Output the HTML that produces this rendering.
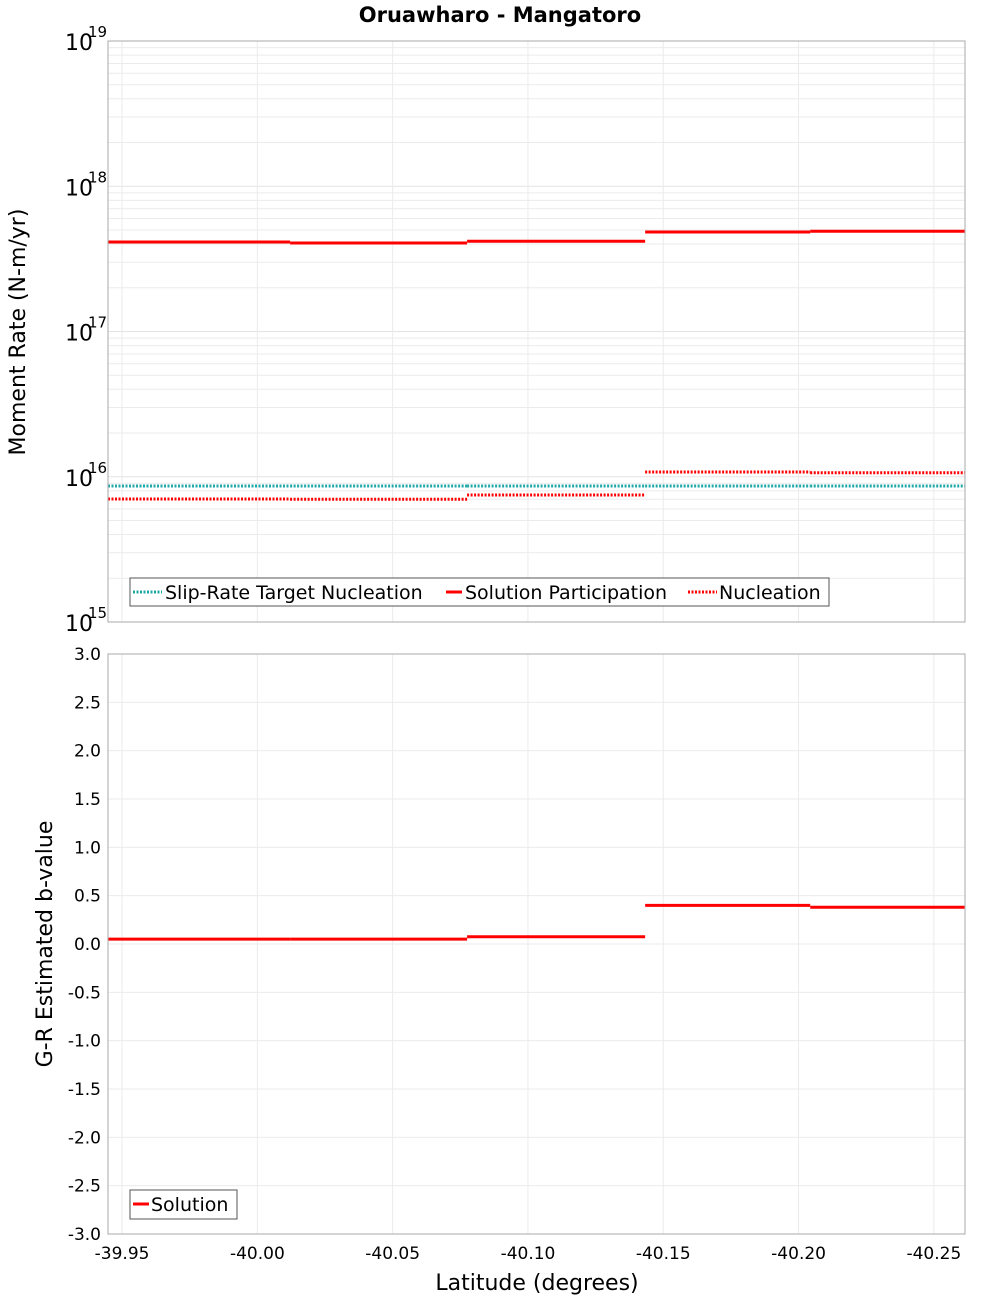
<!DOCTYPE html>
<html><head><meta charset="utf-8"><style>
body{margin:0;background:#fff;}
svg{display:block;font-family:"DejaVu Sans","Liberation Sans",sans-serif;}
</style></head><body>
<svg id="chart" width="1000" height="1300" xmlns="http://www.w3.org/2000/svg"></svg>
<script>
const boundaries = [-39.9448, -40.0121, -40.0775, -40.1433, -40.2043, -40.2615];
const participation = [4.13e17, 4.07e17, 4.18e17, 4.84e17, 4.9e17];
const nucleation = [7.03e15, 7.0e15, 7.49e15, 1.079e16, 1.066e16];
const target = [8.63e15, 8.63e15, 8.63e15, 8.63e15, 8.63e15];
const bvalues = [0.05, 0.05, 0.075, 0.40, 0.38];
const xTicks = [-39.95, -40.00, -40.05, -40.10, -40.15, -40.20, -40.25];
const xTickLabels = ["-39.95","-40.00","-40.05","-40.10","-40.15","-40.20","-40.25"];
const yLogTicks = [15, 16, 17, 18, 19];
const bTicks = [3.0,2.5,2.0,1.5,1.0,0.5,0.0,-0.5,-1.0,-1.5,-2.0,-2.5,-3.0];

const L=108,R=965,T1=41,B1=622,T2=654,B2=1234;
const xMin=-39.9448,xMax=-40.2615;
function X(v){return L+(v-xMin)/(xMax-xMin)*(R-L);}
function Y1(v){return B1-(Math.log10(v)-15)/4*(B1-T1);}
function Y2(v){return B2-(v+3)/6*(B2-T2);}
const svg=document.getElementById('chart');
const NS='http://www.w3.org/2000/svg';
function mk(tag,attrs,parent){const e=document.createElementNS(NS,tag);for(const k in attrs)e.setAttribute(k,attrs[k]);(parent||svg).appendChild(e);return e;}
function txt(s,attrs,parent){const e=mk('text',attrs,parent);e.textContent=s;return e;}

// title
const title=txt('Oruawharo - Mangatoro',{x:500,y:22,'text-anchor':'middle','font-size':21,'font-weight':'bold'});



// ---- top plot grid ----
const g1=mk('g',{});


for(let d=15;d<19;d++){for(let m=2;m<=9;m++){const y=Y1(m*Math.pow(10,d));mk('line',{x1:L,x2:R,y1:y,y2:y,stroke:'#ebebeb','stroke-width':1},g1);}}
yLogTicks.forEach(d=>{const y=Y1(Math.pow(10,d));mk('line',{x1:L,x2:R,y1:y,y2:y,stroke:'#e4e4e4','stroke-width':1},g1);});
xTicks.forEach(v=>{mk('line',{x1:X(v),x2:X(v),y1:T1,y2:B1,stroke:'#ebebeb','stroke-width':1},g1);});
// ---- bottom plot grid ----
const g2=mk('g',{});


bTicks.forEach(v=>{mk('line',{x1:L,x2:R,y1:Y2(v),y2:Y2(v),stroke:'#ebebeb','stroke-width':1},g2);});
xTicks.forEach(v=>{mk('line',{x1:X(v),x2:X(v),y1:T2,y2:B2,stroke:'#ebebeb','stroke-width':1},g2);});

// series top
function steps(vals,fy,attrs,name){
  const g=mk('g',{});
  
  
  vals.forEach((v,i)=>{
    const l=mk('line',Object.assign({x1:X(boundaries[i]),x2:X(boundaries[i+1]),y1:fy(v),y2:fy(v)},attrs),g);
    
    
  });
}
steps(target,Y1,{stroke:'#1fa8a8','stroke-width':3,'stroke-dasharray':'2,1.5'},'slip-rate-target-series');
steps(nucleation,Y1,{stroke:'#ff0000','stroke-width':3,'stroke-dasharray':'2,1.5'},'nucleation-series');
steps(participation,Y1,{stroke:'#ff0000','stroke-width':3},'solution-participation-series');
steps(bvalues,Y2,{stroke:'#ff0000','stroke-width':3},'b-value-series');

// frames
const f1=mk('rect',{x:L,y:T1,width:R-L,height:B1-T1,fill:'none',stroke:'#aaa'});


const f2=mk('rect',{x:L,y:T2,width:R-L,height:B2-T2,fill:'none',stroke:'#aaa'});



// log ticks labels
yLogTicks.forEach(d=>{
  const y=Y1(Math.pow(10,d));
  const t=txt('10',{x:93,y:y+9,'text-anchor':'end','font-size':22});
  
  
  const s=txt(String(d),{x:88,y:y-4,'font-size':15});
  
  
});
bTicks.forEach(v=>{
  const t=txt(v.toFixed(1),{x:101,y:Y2(v)+6,'text-anchor':'end','font-size':17});
  
  
});
xTicks.forEach((v,i)=>{
  const t=txt(xTickLabels[i],{x:X(v),y:1259,'text-anchor':'middle','font-size':17});
  
  
});
const yt1=txt('Moment Rate (N-m/yr)',{x:0,y:0,'text-anchor':'middle','font-size':22,transform:'translate(25,332) rotate(-90)'});


const yt2=txt('G-R Estimated b-value',{x:0,y:0,'text-anchor':'middle','font-size':22,transform:'translate(52,944) rotate(-90)'});


const xt=txt('Latitude (degrees)',{x:537,y:1290,'text-anchor':'middle','font-size':22});



// legends
const lg1=mk('g',{});


mk('rect',{x:130,y:578,width:699,height:28,fill:'#fff',stroke:'#555'},lg1);
mk('line',{x1:133,x2:162,y1:592,y2:592,stroke:'#1fa8a8','stroke-width':3,'stroke-dasharray':'2,1.5'},lg1);
txt('Slip-Rate Target Nucleation',{x:165,y:599,'font-size':19},lg1);
mk('line',{x1:446,x2:462,y1:592,y2:592,stroke:'#ff0000','stroke-width':3},lg1);
txt('Solution Participation',{x:465,y:599,'font-size':19},lg1);
mk('line',{x1:688,x2:717,y1:592,y2:592,stroke:'#ff0000','stroke-width':3,'stroke-dasharray':'2,1.5'},lg1);
txt('Nucleation',{x:719,y:599,'font-size':19},lg1);
const lg2=mk('g',{});


mk('rect',{x:130,y:1190,width:107,height:29,fill:'#fff',stroke:'#555'},lg2);
mk('line',{x1:133,x2:149,y1:1204,y2:1204,stroke:'#ff0000','stroke-width':3},lg2);
txt('Solution',{x:151,y:1211,'font-size':19},lg2);
</script>
</body></html>
